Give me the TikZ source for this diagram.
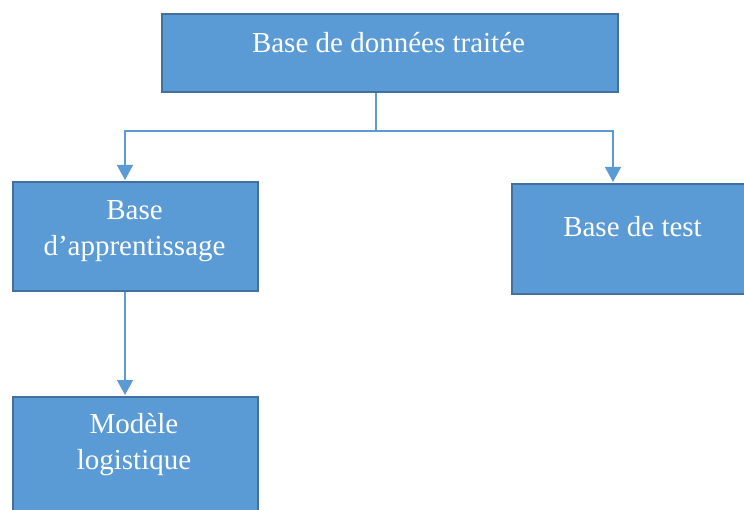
\documentclass[tikz,border=0pt]{standalone}
\usepackage{fontspec}
\setmainfont{Liberation Serif}
\usetikzlibrary{arrows.meta}
\definecolor{boxfill}{HTML}{5B9BD5}
\definecolor{boxline}{HTML}{41719C}
\definecolor{linkcol}{HTML}{5B9BD5}
\tikzset{
  block/.style={draw=boxline, line width=2.2pt, fill=boxfill, inner sep=0pt, anchor=north west},
  label text/.style={text=white, align=center, inner sep=0pt, font=\fontsize{29}{36}\selectfont},
  link/.style={draw=linkcol, line width=1.4pt},
  arrowlink/.style={link, -{Triangle[length=15pt, width=16pt]}, shorten >=1pt}
}
\begin{document}
\begin{tikzpicture}[x=1pt, y=-1pt]
  \useasboundingbox (0,0) rectangle (744,510);
  \clip (0,0) rectangle (744,510);

  % boxes
  \node[block, minimum width=456pt, minimum height=78pt] (top) at (161,13) {};
  \node[block, minimum width=245pt, minimum height=109pt] (learn) at (12,181) {};
  \node[block, minimum width=260pt, minimum height=110pt] (test) at (511,183) {};
  \node[block, minimum width=245pt, minimum height=130pt] (model) at (12,396) {};

  % texts
  \node[label text] (ttop) at (388.5,43) {Base de données traitée};
  \node[label text] (tlearn) at (134.5,231) {Base\\d’apprentissage};
  \node[label text] (ttest) at (632.5,227) {Base de test};
  \node[label text] (tmodel) at (134,445) {Modèle\\logistique};

  % junction points of the split connector
  \coordinate (j) at (376,131);
  \coordinate (jl) at (125,131);
  \coordinate (jr) at (613,131);

  % connectors
  \draw[link] (top.south -| j) -- (j);
  \draw[arrowlink] (j) -- (jl) -- (learn.north -| jl);
  \draw[arrowlink] (j) -- (jr) -- (test.north -| jr);
  \draw[arrowlink] (learn.south -| jl) -- (model.north -| jl);
\end{tikzpicture}
\end{document}
